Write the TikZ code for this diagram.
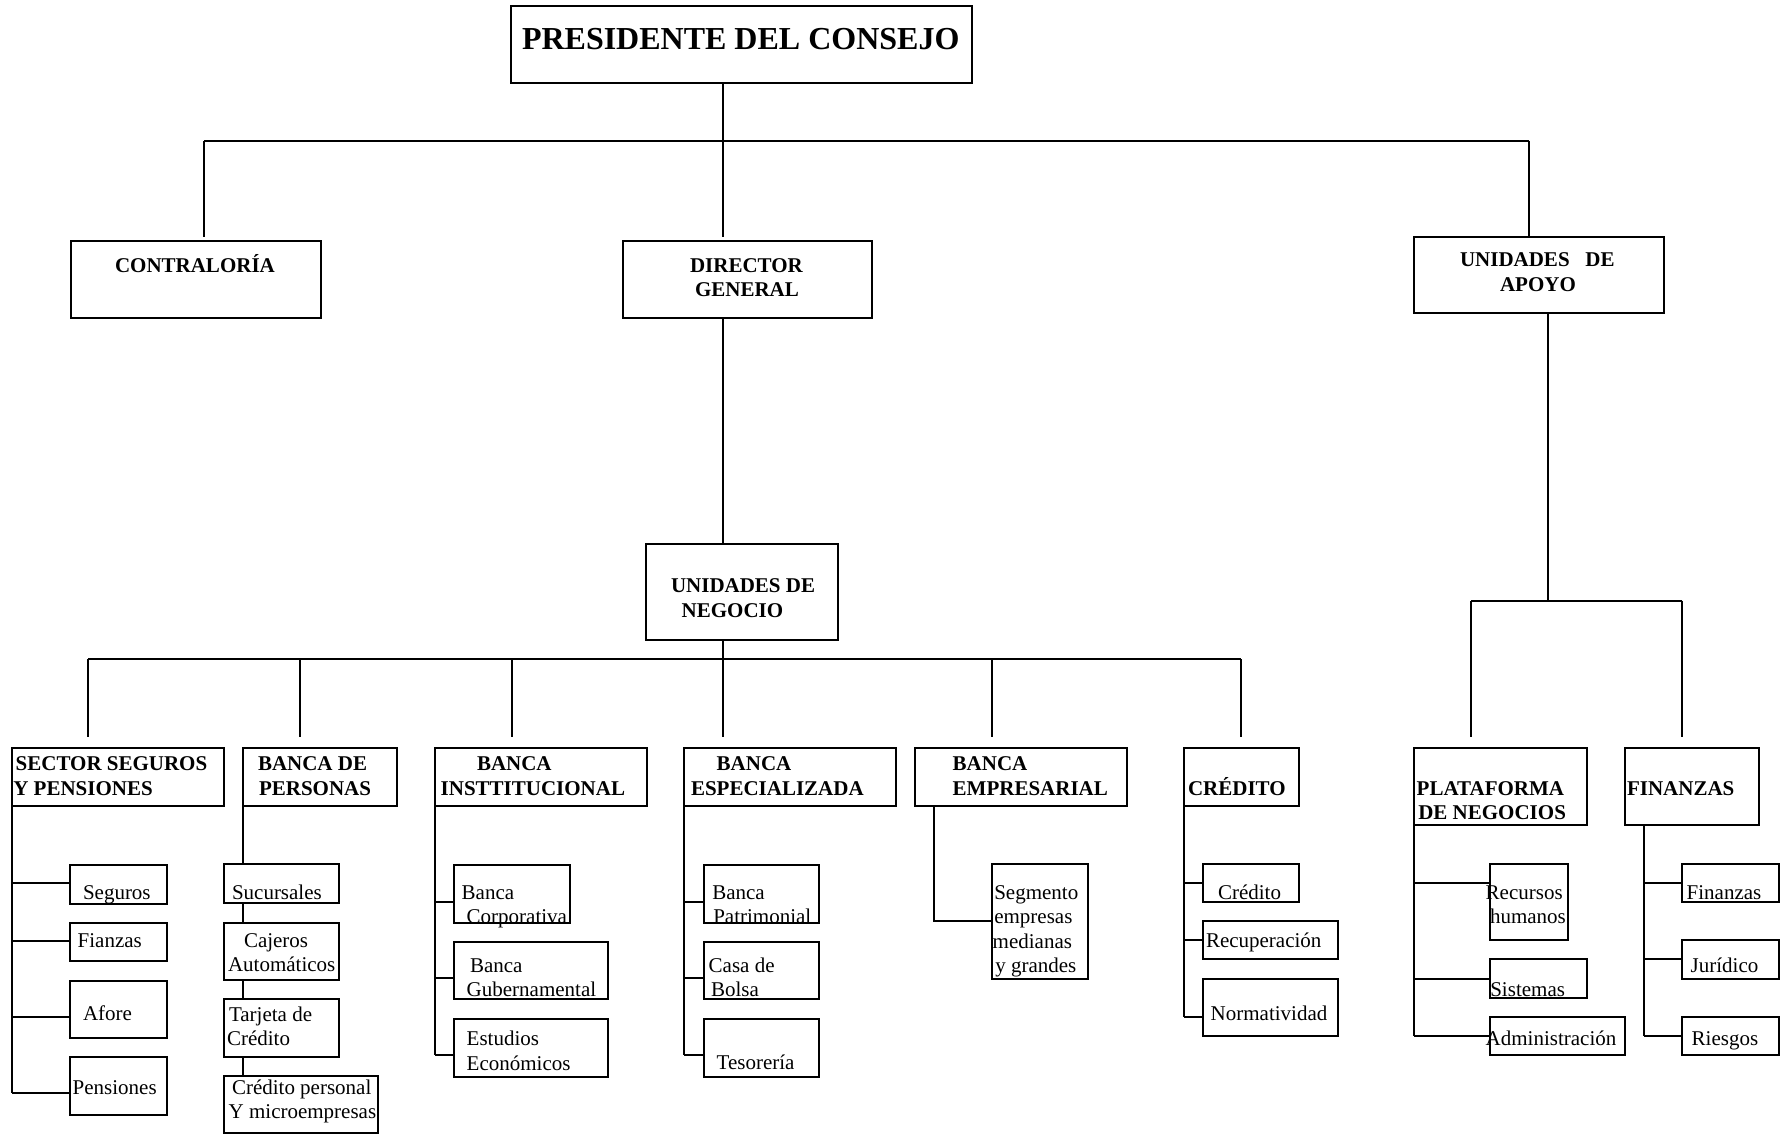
\documentclass[tikz,border=0pt]{standalone}
\usepackage{fontspec}
\setmainfont{Liberation Serif}
\newcommand\obox[5]{\node[box,minimum width={(#4-#2)*1pt},minimum height={(#5-#3)*1pt}] (#1) at ({(#2+#4)/2},{(#3+#5)/2}) {};}
% text node: anchor at the baseline of the LAST line
\newcommand\otx[4]{\node[txt] (#1) at (#2,#3) {#4};}
\newcommand\obt[4]{\node[txt,font=\fontsize{21}{24.5}\selectfont\bfseries] (#1) at (#2,#3) {#4};}
\begin{document}
\begin{tikzpicture}[x=1pt,y=-1pt,
  box/.style={draw,line width=2pt,inner sep=0pt,outer sep=0pt},
  txt/.style={anchor=base west,inner sep=0pt,outer sep=0pt,align=left,font=\fontsize{21}{24.5}\selectfont},
  ln/.style={line width=2pt}]
\fill[white] (0,0) rectangle (1780,1134);
\useasboundingbox (0,0) rectangle (1780,1134);

% ---------- boxes ----------
\obox{pres}{511}{6}{972}{83}
\obox{contra}{71}{241}{321}{318}
\obox{dir}{623}{241}{872}{318}
\obox{apoyo}{1414}{237}{1664}{313}
\obox{un}{646}{544}{837.5}{640}

\obox{sec}{12.3}{748.3}{224}{806}
\obox{per}{243}{748.3}{397}{806}
\obox{ins}{434.7}{748.3}{646.7}{806}
\obox{esp}{684.3}{748.3}{896}{806}
\obox{emp}{914.7}{748.3}{1126.7}{806}
\obox{cre}{1183.7}{748.3}{1299.3}{806}
\obox{pla}{1413.7}{748.3}{1586.7}{825.3}
\obox{fin}{1625}{748.3}{1759.3}{825.3}

\obox{segu}{70}{865}{167}{904}
\obox{fian}{70}{923}{167}{961}
\obox{afor}{70}{981}{167}{1038}
\obox{pens}{70}{1057}{167}{1115}

\obox{suc}{224}{864}{339}{903}
\obox{caj}{224}{923}{339}{980}
\obox{tar}{224}{999}{339}{1057}
\obox{cpe}{224}{1076}{378}{1133}

\obox{corp}{454}{865}{570}{922.7}
\obox{gub}{454}{941.7}{608}{999}
\obox{est}{454}{1019}{608}{1076.7}

\obox{pat}{703.7}{865}{819.3}{922.7}
\obox{cas}{703.7}{941.7}{819.3}{999}
\obox{tes}{703.7}{1019}{819.3}{1076.7}

\obox{sgm}{991.7}{864.3}{1088.3}{979.3}

\obox{crs}{1202.7}{863.7}{1299.3}{902}
\obox{rcp}{1202.7}{921}{1337.7}{959.3}
\obox{nrm}{1202.7}{978.7}{1337.7}{1036}

\obox{rh}{1490.3}{863.7}{1567.7}{940.3}
\obox{sis}{1490.3}{959.3}{1586.7}{997.7}
\obox{adm}{1490.3}{1017}{1625}{1055.3}

\obox{fns}{1682.3}{863.7}{1778.7}{902}
\obox{jur}{1682.3}{940.3}{1778.7}{978.7}
\obox{rie}{1682.3}{1017}{1778.7}{1055.3}

% ---------- texts ----------
\node[txt,font=\fontsize{32}{36}\selectfont\bfseries] (t-pres) at (522,50) {PRESIDENTE DEL CONSEJO};
\obt{t-contra}{115}{272}{CONTRALORÍA}
\obt{t-dir}{690}{296.5}{DIRECTOR\\\hspace*{5pt}GENERAL}
\obt{t-apoyo}{1460}{291}{UNIDADES\ \ \ DE\\\hspace*{40pt}APOYO}
\obt{t-un}{671}{617}{UNIDADES DE\\\hspace*{10.7pt}NEGOCIO}

\obt{t-sec}{13.3}{795}{\hspace*{2.4pt}SECTOR SEGUROS\\Y PENSIONES}
\obt{t-per}{258}{795}{BANCA DE\\\hspace*{1pt}PERSONAS}
\obt{t-ins}{440.7}{795}{\hspace*{36.3pt}BANCA\\INSTTITUCIONAL}
\obt{t-esp}{691}{795}{\hspace*{25.7pt}BANCA\\ESPECIALIZADA}
\obt{t-emp}{952.7}{795}{BANCA\\EMPRESARIAL}
\obt{t-cre}{1188}{795}{CRÉDITO}
\obt{t-pla}{1416.7}{819.5}{PLATAFORMA\\\hspace*{1.6pt}DE NEGOCIOS}
\obt{t-fin}{1627}{795}{FINANZAS}

\otx{t-segu}{83}{899}{Seguros}
\otx{t-fian}{77.7}{947}{Fianzas}
\otx{t-afor}{83}{1020}{Afore}
\otx{t-pens}{72.7}{1094}{Pensiones}

\otx{t-suc}{232}{899}{Sucursales}
\otx{t-caj}{228}{971.5}{\hspace*{16pt}Cajeros\\Automáticos}
\otx{t-tar}{227}{1045.5}{\hspace*{2pt}Tarjeta de\\Crédito}
\otx{t-cpe}{228.7}{1118.5}{\hspace*{3.3pt}Crédito personal\\Y microempresas}

\otx{t-corp}{461.7}{923.5}{Banca\\\hspace*{5pt}Corporativa}
\otx{t-gub}{466.7}{996.5}{\hspace*{3.3pt}Banca\\Gubernamental}
\otx{t-est}{466.7}{1070}{Estudios\\Económicos}

\otx{t-pat}{712.3}{923.5}{Banca\\\hspace*{1pt}Patrimonial}
\otx{t-cas}{708.7}{996.5}{Casa de\\\hspace*{2.3pt}Bolsa}
\otx{t-tes}{716.7}{1069}{Tesorería}

\otx{t-sgm}{992.7}{972.5}{\hspace*{1.6pt}Segmento\\\hspace*{1.6pt}empresas\\medianas\\\hspace*{2.6pt}y grandes}

\otx{t-crs}{1218}{899}{Crédito}
\otx{t-rcp}{1206}{947}{Recuperación}
\otx{t-nrm}{1210.7}{1020}{Normatividad}

\otx{t-rh}{1485.7}{923.5}{Recursos\\\hspace*{4.3pt}humanos}
\otx{t-sis}{1490.3}{996.5}{Sistemas}
\otx{t-adm}{1485.7}{1045.5}{Administración}

\otx{t-fns}{1686.7}{899}{Finanzas}
\otx{t-jur}{1690.7}{972}{Jurídico}
\otx{t-rie}{1691.7}{1045.5}{Riesgos}

% ---------- connectors: top ----------
\coordinate (j1) at (722.6,140.7);
\coordinate (hl) at (204,140.7);
\coordinate (hr) at (1529,140.7);
\draw[ln] (pres.south -| j1) -- (j1);
\draw[ln] (hl) -- (hr);
\draw[ln,shorten >=4pt] (hl) -- (hl |- contra.north);
\draw[ln,shorten >=4pt] (j1) -- (j1 |- dir.north);
\draw[ln] (hr) -- (hr |- apoyo.north);
\draw[ln] (dir.south -| j1) -- (j1 |- un.north);

% ---------- connectors: business units ----------
\coordinate (j2) at (722.6,659.3);
\draw[ln] (un.south -| j2) -- (j2);
\draw[ln] (88.4,659.3) -- (1241,659.3);
\foreach \xx/\nn in {88.4/sec,299.5/per,511.5/ins,722.6/esp,991.5/emp,1241/cre}
  \draw[ln,shorten >=11.6pt] (\xx,659.3) -- (\xx,659.3 |- \nn.north);

% ---------- connectors: support units ----------
\coordinate (j3) at (1548,600.5);
\draw[ln] (apoyo.south -| j3) -- (j3);
\draw[ln] (1471,600.5) -- (1682.3,600.5);
\foreach \xx/\nn in {1471/pla,1682.3/fin}
  \draw[ln,shorten >=11.6pt] (\xx,600.5) -- (\xx,600.5 |- \nn.north);

% ---------- sub-connectors ----------
% Sector seguros
\draw[ln] (sec.south west) -- (sec.south west |- 0,1093);
\foreach \yy/\nn in {883/segu,941/fian,1017/afor,1093/pens}
  \draw[ln] (sec.south west |- 0,\yy) -- (\nn.west |- 0,\yy);
% Banca de personas (chain)
\draw[ln] (per.south west) -- (per.south west |- suc.north);
\draw[ln] (per.south west |- suc.south) -- (per.south west |- caj.north);
\draw[ln] (per.south west |- caj.south) -- (per.south west |- tar.north);
\draw[ln] (per.south west |- tar.south) -- (per.south west |- cpe.north);
% Banca institucional
\draw[ln] (ins.south west) -- (ins.south west |- 0,1055);
\foreach \yy/\nn in {902/corp,978/gub,1055/est}
  \draw[ln] (ins.south west |- 0,\yy) -- (\nn.west |- 0,\yy);
% Banca especializada
\draw[ln] (esp.south west) -- (esp.south west |- 0,1055);
\foreach \yy/\nn in {902/pat,978/cas,1055/tes}
  \draw[ln] (esp.south west |- 0,\yy) -- (\nn.west |- 0,\yy);
% Banca empresarial
\draw[ln] (emp.south -| 933.7,0) |- (sgm.west |- 0,921);
% Credito
\draw[ln] (cre.south west) -- (cre.south west |- 0,1016.7);
\foreach \yy/\nn in {882.7/crs,940.3/rcp,1016.7/nrm}
  \draw[ln] (cre.south west |- 0,\yy) -- (\nn.west |- 0,\yy);
% Plataforma
\draw[ln] (pla.south west) -- (pla.south west |- 0,1036);
\foreach \yy/\nn in {882.7/rh,978.7/sis,1036/adm}
  \draw[ln] (pla.south west |- 0,\yy) -- (\nn.west |- 0,\yy);
% Finanzas
\draw[ln] (fin.south -| 1644,0) -- (1644,1036);
\foreach \yy/\nn in {882.7/fns,959.3/jur,1036/rie}
  \draw[ln] (1644,\yy) -- (\nn.west |- 0,\yy);
\end{tikzpicture}
\end{document}
